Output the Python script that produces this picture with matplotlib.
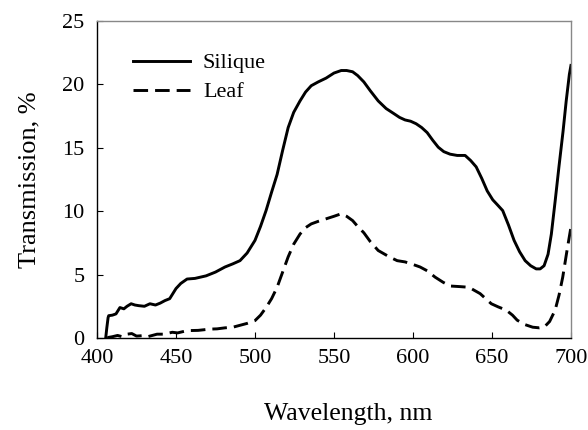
import matplotlib
matplotlib.use("Agg")
import matplotlib.pyplot as plt

# Silique transmission spectrum
silique_wl = [405.5, 406.2, 407.0, 407.4, 409.7, 412.0, 414.5, 417.0, 419.0, 421.6, 424.0, 426.4,
              430.0, 433.5, 437.0, 440.0, 443.0, 446.0, 450.0, 453.0, 457.0, 462.0, 469.0, 475.0,
              481.0, 486.0, 490.5, 495.0, 500.0, 503.5, 507.0, 510.5, 514.0, 517.5, 521.0, 524.5,
              528.5, 532.0, 535.6, 540.0, 545.0, 550.0, 554.6, 558.0, 561.8, 565.0, 568.9, 573.0,
              578.0, 583.0, 587.9, 591.5, 595.0, 598.5, 602.0, 605.5, 609.0, 612.5, 616.0, 619.5,
              623.5, 628.0, 633.0, 636.5, 640.0, 643.5, 647.0, 650.5, 653.5, 656.8, 660.5, 664.0,
              667.5, 671.0, 674.5, 678.0, 680.5, 683.0, 685.5, 687.6, 690.0, 692.4, 695.0, 697.0,
              699.0, 700.0]
silique_t = [0.0, 0.8, 1.6, 1.76, 1.8, 1.9, 2.4, 2.3, 2.5, 2.7, 2.6, 2.55,
             2.5, 2.7, 2.6, 2.75, 2.95, 3.1, 3.9, 4.3, 4.65, 4.7, 4.9, 5.2,
             5.6, 5.85, 6.1, 6.7, 7.7, 8.8, 10.05, 11.5, 12.9, 14.8, 16.6, 17.8,
             18.7, 19.4, 19.9, 20.2, 20.5, 20.9, 21.1, 21.1, 21.0, 20.7, 20.2, 19.5,
             18.7, 18.1, 17.7, 17.4, 17.2, 17.1, 16.9, 16.6, 16.2, 15.6, 15.05, 14.7,
             14.5, 14.4, 14.4, 14.0, 13.5, 12.6, 11.6, 10.9, 10.5, 10.05, 8.9, 7.7,
             6.8, 6.1, 5.7, 5.45, 5.45, 5.7, 6.6, 8.2, 10.8, 13.5, 16.3, 18.7,
             20.8, 21.5]

# Leaf transmission spectrum
leaf_wl = [406.5, 407.4, 409.7, 413.0, 416.0, 419.0, 422.0, 425.0, 428.7, 432.0, 435.0, 438.0,
           442.0, 447.7, 451.0, 457.0, 464.0, 471.5, 476.0, 481.0, 486.0, 490.5, 495.0, 500.0,
           503.5, 507.0, 510.5, 514.0, 517.5, 521.0, 524.5, 528.5, 532.0, 535.6, 540.0, 545.0,
           550.0, 554.6, 558.0, 561.8, 565.0, 568.9, 573.0, 578.0, 585.0, 590.0, 595.0, 600.0,
           604.5, 609.0, 614.0, 619.0, 623.5, 630.0, 635.4, 642.5, 649.6, 654.0, 659.0, 663.0,
           666.0, 671.0, 675.8, 680.0, 683.0, 686.5, 690.0, 692.5, 694.8, 697.5, 700.0]
leaf_t = [0.0, 0.05, 0.1, 0.2, 0.1, 0.3, 0.35, 0.15, 0.18, 0.1, 0.2, 0.3,
          0.3, 0.45, 0.4, 0.58, 0.6, 0.7, 0.72, 0.8, 0.85, 1.0, 1.15, 1.37,
          1.8, 2.4, 3.1, 4.0, 5.2, 6.4, 7.4, 8.2, 8.7, 9.0, 9.2, 9.4,
          9.6, 9.8, 9.6, 9.26, 8.8, 8.3, 7.6, 6.9, 6.4, 6.1, 6.0, 5.8,
          5.6, 5.3, 4.8, 4.4, 4.1, 4.05, 4.0, 3.5, 2.7, 2.45, 2.2, 1.8,
          1.4, 1.05, 0.85, 0.8, 0.85, 1.3, 2.2, 3.4, 4.8, 6.9, 8.75]

x_ticks = [400, 450, 500, 550, 600, 650, 700]
y_ticks = [0, 5, 10, 15, 20, 25]

plt.rcParams['font.family'] = ['Liberation Serif', 'DejaVu Serif']

fig = plt.figure(figsize=(5.88, 4.30), dpi=100)
ax = fig.add_axes([0.165, 0.214, 0.806, 0.737])

ax.plot(silique_wl, silique_t, color='black', lw=2.1, label='Silique')
ax.plot(leaf_wl, leaf_t, color='black', lw=2.1, dashes=(5.0, 2.4), label='Leaf')

ax.set_xlim(400, 700)
ax.set_ylim(0, 25)
ax.set_xticks(x_ticks)
ax.set_yticks(y_ticks)
ax.tick_params(axis='x', direction='in', length=4, labelsize=16, pad=8)
ax.tick_params(axis='y', direction='in', length=4, labelsize=16, pad=9)

for s in ['left', 'bottom']:
    ax.spines[s].set_color('black')
    ax.spines[s].set_linewidth(1.0)
for s in ['top', 'right']:
    ax.spines[s].set_color('#888888')
    ax.spines[s].set_linewidth(1.0)

ax.set_xlabel('Wavelength, nm', fontsize=18.5)
ax.xaxis.set_label_coords(0.53, -0.205)
ax.set_ylabel('Transmission, %', fontsize=19, labelpad=16)

leg = ax.legend(loc='upper left', bbox_to_anchor=(0.057, 0.928), frameon=False,
                fontsize=16, handlelength=2.55, handletextpad=0.6, labelspacing=0.38,
                borderaxespad=0)

fig.savefig('out.png', dpi=100)
